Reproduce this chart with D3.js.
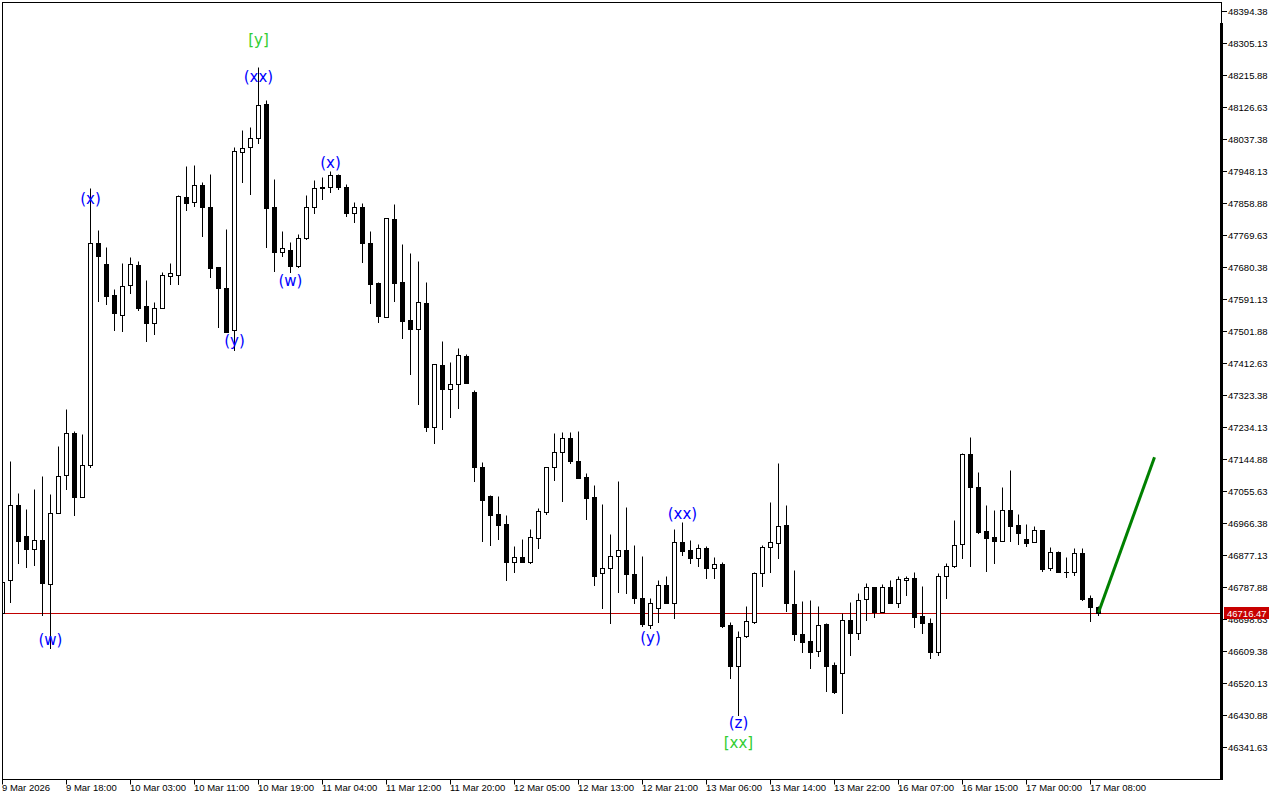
<!DOCTYPE html>
<html><head><meta charset="utf-8">
<script src="https://cdn.jsdelivr.net/npm/d3@7"></script>
<style>html,body{margin:0;padding:0;background:#fff;overflow:hidden}svg{display:block}</style>
</head><body>
<svg id="c" width="1280" height="800"></svg>
<script>
// ---- DATA (hourly bars) ----
const barOpen = [46715.36,46807.41,47016.58,46930.12,46893.87,46918.97,46796.25,46994.27,47100.26,47217.40,
47038.90,47128.15,47747.32,47688.75,47602.29,47546.50,47630.18,47685.96,47571.61,47524.19,
47566.03,47655.28,47658.07,47875.61,47861.67,47909.08,47847.73,47680.38,47621.81,47504.67,
48001.12,48015.06,48040.17,48134.99,47847.73,47722.22,47727.80,47683.17,47761.27,47847.73,
47900.71,47903.50,47936.97,47903.50,47830.99,47847.73,47747.32,47635.76,47540.93,47814.26,
47638.55,47532.56,47507.46,47579.97,47234.14,47407.05,47340.11,47354.06,47432.15,47331.75,
47122.57,47041.69,46991.48,46963.59,46857.61,46871.55,46857.61,46924.55,46997.06,47122.57,
47164.41,47203.46,47139.31,47094.68,47038.90,46826.93,46840.87,46874.34,46891.08,46824.14,
46757.20,46681.89,46729.31,46793.46,46743.25,46913.39,46891.08,46868.76,46896.66,46840.87,
46852.03,46681.89,46567.54,46651.21,46690.26,46826.93,46899.44,46910.60,46960.80,46740.46,
46656.79,46637.27,46609.38,46684.68,46570.33,46548.02,46695.84,46659.58,46754.41,46787.88,
46718.15,46787.88,46743.25,46807.41,46812.98,46707.00,46687.47,46606.59,46818.56,46846.45,
46907.81,47158.83,47066.79,46944.07,46927.33,46916.18,47002.64,46960.80,46921.76,46913.39,
46946.86,46840.87,46885.50,46829.72,46829.72,46882.71,46757.20,46732.10];
const barHigh = [46805.00,47139.31,47050.06,47005.43,47061.21,47097.47,47047.27,47181.14,47284.34,47222.98,
47214.61,47900.71,47783.58,47736.16,47619.02,47691.54,47708.27,47697.12,47644.13,47582.76,
47666.44,47691.54,47881.19,47962.07,47964.86,47917.45,47939.76,47680.38,47786.37,48015.06,
48062.48,48070.85,48238.19,48146.15,47925.81,47780.79,47750.11,47772.42,47881.19,47923.03,
47931.39,47948.13,47939.76,47911.87,47861.67,47858.88,47780.79,47638.55,47817.05,47856.09,
47744.53,47719.43,47697.12,47638.55,47409.84,47473.99,47415.42,47454.47,47437.73,47337.32,
47136.52,47044.48,47041.69,46988.69,46902.23,46921.76,46949.65,47008.22,47122.57,47217.40,
47220.19,47220.19,47222.98,47105.84,47072.37,47019.37,46935.70,47083.53,47011.01,46905.02,
46874.34,46757.20,46807.41,46818.56,46949.65,46969.17,46918.97,46907.81,46902.23,46871.55,
46857.61,46690.26,46665.16,46734.89,46829.72,46905.02,47024.95,47133.73,47016.58,46835.30,
46748.83,46751.62,46734.89,46687.47,46578.70,46715.36,46746.04,46771.15,46799.04,46787.88,
46796.25,46807.41,46818.56,46818.56,46829.72,46790.67,46701.42,46826.93,46854.82,46974.75,
47161.62,47206.24,47108.63,47016.58,47002.64,47066.79,47114.21,46991.48,46963.59,46958.01,
46946.86,46899.44,46888.29,46871.55,46896.66,46896.66,46765.57,46734.89];
const barLow = [46712.00,46746.04,46854.82,46843.66,46849.24,46709.78,46617.75,46994.27,47061.21,46988.69,
47038.90,47122.57,47585.55,47577.18,47504.67,47501.88,47607.87,47560.45,47473.99,47493.51,
47566.03,47632.97,47632.97,47839.36,47850.52,47766.84,47652.49,47513.04,47499.09,47448.89,
47917.45,47883.98,48026.22,47736.16,47669.23,47711.06,47666.44,47680.38,47758.48,47830.99,
47870.03,47889.56,47897.92,47822.63,47805.89,47694.33,47579.97,47526.98,47540.93,47585.55,
47482.36,47381.95,47298.28,47222.98,47189.51,47228.56,47262.03,47287.13,47356.85,47083.53,
46916.18,46905.02,46921.76,46807.41,46829.72,46857.61,46854.82,46896.66,46991.48,47086.32,
47027.74,47133.73,47091.89,46977.54,46793.46,46729.31,46687.47,46773.94,46771.15,46743.25,
46679.10,46673.53,46690.26,46743.25,46701.42,46877.13,46854.82,46846.45,46812.98,46812.98,
46676.32,46534.07,46430.88,46648.42,46687.47,46790.67,46829.72,46868.76,46720.94,46640.06,
46606.59,46561.96,46595.43,46497.82,46492.24,46436.46,46598.22,46642.85,46695.84,46704.21,
46718.15,46743.25,46732.10,46765.57,46676.32,46659.58,46589.85,46598.22,46757.20,46843.66,
46868.76,46846.45,46938.49,46832.51,46854.82,46916.18,46916.18,46907.81,46902.23,46913.39,
46832.51,46835.30,46829.72,46815.77,46821.35,46751.62,46693.05,46709.78];
const barClose = [46801.83,47016.58,46916.18,46893.87,46918.97,46799.04,46994.27,47097.47,47217.40,47038.90,
47128.15,47747.32,47711.06,47599.50,47552.08,47627.39,47688.75,47566.03,47524.19,47566.03,
47658.07,47663.65,47878.40,47858.88,47909.08,47847.73,47677.59,47621.81,47499.09,48003.91,
48012.28,48040.17,48132.20,47844.94,47722.22,47733.38,47683.17,47761.27,47847.73,47900.71,
47903.50,47936.97,47903.50,47830.99,47847.73,47747.32,47632.97,47543.72,47817.05,47635.76,
47529.77,47507.46,47582.76,47234.14,47409.84,47340.11,47354.06,47434.94,47356.85,47122.57,
47030.53,46988.69,46960.80,46857.61,46871.55,46857.61,46927.33,46999.85,47122.57,47164.41,
47203.46,47139.31,47091.89,47036.11,46818.56,46840.87,46874.34,46891.08,46824.14,46757.20,
46684.68,46743.25,46793.46,46743.25,46913.39,46888.29,46868.76,46896.66,46840.87,46852.03,
46679.10,46567.54,46648.42,46693.05,46826.93,46899.44,46913.39,46958.01,46743.25,46656.79,
46634.48,46606.59,46681.89,46567.54,46495.03,46695.84,46659.58,46751.62,46787.88,46718.15,
46787.88,46743.25,46810.19,46812.98,46704.21,46687.47,46606.59,46818.56,46846.45,46905.02,
47158.83,47066.79,46941.28,46924.55,46916.18,47002.64,46958.01,46938.49,46910.60,46946.86,
46838.08,46885.50,46829.72,46828.50,46882.71,46754.41,46732.10,46716.47];

const priceTicks = [48394.38,48305.13,48215.88,48126.63,48037.38,47948.13,47858.88,47769.63,47680.38,47591.13,
47501.88,47412.63,47323.38,47234.13,47144.88,47055.63,46966.38,46877.13,46787.88,46698.63,
46609.38,46520.13,46430.88,46341.63];
const timeLabels = ["9 Mar 2026","9 Mar 18:00","10 Mar 03:00","10 Mar 11:00","10 Mar 19:00","11 Mar 04:00",
"11 Mar 12:00","11 Mar 20:00","12 Mar 05:00","12 Mar 13:00","12 Mar 21:00","13 Mar 06:00","13 Mar 14:00",
"13 Mar 22:00","16 Mar 07:00","16 Mar 15:00","17 Mar 00:00","17 Mar 08:00"];
const timeLabelBars = [0,8,16,24,32,40,48,56,64,72,80,88,96,104,112,120,128,136];

// wave annotations: bar index, price level, text, degree
const waveBars   = [6, 11, 32, 32, 29, 36, 41, 81, 85, 92, 92];
const wavePrices = [46640.06, 47870.03, 48313.50, 48210.30, 47473.99, 47641.34, 47970.44, 46645.64, 46991.48, 46408.57, 46352.79];
const waveTexts  = ["(w)","(x)","[y]","(xx)","(y)","(w)","(x)","(y)","(xx)","(z)","[xx]"];
const waveDegree = ["minor","minor","major","minor","minor","minor","minor","minor","minor","minor","major"];

const lastPrice = 46716.47;
const forecastBars = [137, 144];
const forecastPrices = [46716.47, 47150.0];

// ---- DRAW ----
const svg = d3.select("#c");
const L = 2.5, R = 1221.5, T = 2.5, B = 779.5;
const x = d3.scaleLinear().domain([0, 1]).range([2.5, 10.5]);
const y = d3.scaleLinear().domain([46341.63, 48394.38]).range([747, 11]);
const py = v => Math.round(y(v)) + 0.5;

svg.append("rect").attr("width", 1280).attr("height", 800).attr("fill", "#fff");

const defs = svg.append("defs");
defs.append("clipPath").attr("id", "plotclip").append("rect")
  .attr("x", L).attr("y", T).attr("width", R - L).attr("height", B - T);

const plot = svg.append("g").attr("clip-path", "url(#plotclip)");

// last price line
plot.append("line").attr("x1", L).attr("x2", R)
  .attr("y1", py(lastPrice)).attr("y2", py(lastPrice))
  .attr("stroke", "#c00000").attr("stroke-width", 1);

const bars = d3.range(barOpen.length).map(i => ({
  i, o: barOpen[i], h: barHigh[i], l: barLow[i], c: barClose[i]
}));

const g = plot.selectAll("g.bar").data(bars).join("g").attr("class", "bar");
g.append("line")
  .attr("x1", d => x(d.i)).attr("x2", d => x(d.i))
  .attr("y1", d => py(d.h)).attr("y2", d => py(d.l) + 0.5)
  .attr("stroke", "#000").attr("stroke-width", 1);
g.append("rect")
  .attr("x", d => x(d.i) - 2)
  .attr("width", 4)
  .attr("y", d => py(Math.max(d.o, d.c)))
  .attr("height", d => Math.max(0.01, py(Math.min(d.o, d.c)) - py(Math.max(d.o, d.c))))
  .attr("fill", d => d.c >= d.o ? "#fff" : "#000")
  .attr("stroke", "#000").attr("stroke-width", 1);

// forecast arrow line
plot.append("line")
  .attr("x1", x(forecastBars[0])).attr("y1", y(forecastPrices[0]))
  .attr("x2", x(forecastBars[1])).attr("y2", y(forecastPrices[1]))
  .attr("stroke", "#008000").attr("stroke-width", 3).attr("stroke-linecap", "butt");

// wave labels
plot.selectAll("text.wave").data(waveTexts).join("text").attr("class", "wave")
  .attr("x", (d, k) => x(waveBars[k]))
  .attr("y", (d, k) => y(wavePrices[k]))
  .attr("text-anchor", "middle").attr("dominant-baseline", "central")
  .attr("font-family", "'DejaVu Sans', sans-serif").attr("font-size", 15)
  .attr("fill", (d, k) => waveDegree[k] === "major" ? "#32cd32" : "#0000ff")
  .text(d => d);

// frame
svg.append("rect").attr("x", L).attr("y", T).attr("width", R - L).attr("height", B - T)
  .attr("fill", "none").attr("stroke", "#000").attr("stroke-width", 1);
svg.append("rect").attr("x", 1220).attr("y", 23).attr("width", 3).attr("height", B - 23 + 0.5).attr("fill", "#000");

const fontAxis = "'Liberation Sans', Arial, sans-serif";

// y axis
const ya = svg.append("g");
ya.selectAll("line").data(priceTicks).join("line")
  .attr("x1", 1222).attr("x2", 1227).attr("y1", d => py(d)).attr("y2", d => py(d))
  .attr("stroke", "#000");
ya.selectAll("text").data(priceTicks).join("text")
  .attr("x", 1228).attr("y", d => py(d))
  .attr("dominant-baseline", "central")
  .attr("font-family", fontAxis).attr("font-size", 9.5).attr("fill", "#000")
  .text(d => d3.format(".2f")(d));

// last price tag
svg.append("rect").attr("x", 1224).attr("y", py(lastPrice) - 6.5).attr("width", 45).attr("height", 12)
  .attr("fill", "#c80000");
svg.append("text").attr("x", 1227).attr("y", py(lastPrice))
  .attr("dominant-baseline", "central")
  .attr("font-family", fontAxis).attr("font-size", 9.5).attr("fill", "#fff")
  .text(d3.format(".2f")(lastPrice));

// x axis
const xa = svg.append("g");
xa.selectAll("line").data(timeLabelBars).join("line")
  .attr("x1", d => x(d)).attr("x2", d => x(d))
  .attr("y1", B).attr("y2", B + 5)
  .attr("stroke", "#000");
xa.selectAll("text").data(timeLabels).join("text")
  .attr("x", (d, k) => x(timeLabelBars[k]) - 0.5)
  .attr("y", 791)
  .attr("font-family", fontAxis).attr("font-size", 9.5).attr("fill", "#000")
  .text(d => d);
</script>
</body></html>
